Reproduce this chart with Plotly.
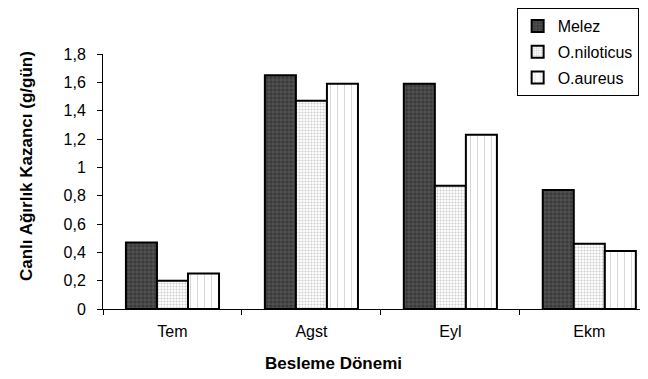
import plotly.graph_objects as go

categories = ["Tem", "Agst", "Eyl", "Ekm"]
melez = [0.47, 1.65, 1.59, 0.84]
niloticus = [0.20, 1.47, 0.87, 0.46]
aureus = [0.25, 1.59, 1.23, 0.41]
series_names = ["Melez", "O.niloticus", "O.aureus"]
y_ticks = [0, 0.2, 0.4, 0.6, 0.8, 1.0, 1.2, 1.4, 1.6, 1.8]
x_title = "Besleme Dönemi"
y_title = "Canlı Ağırlık Kazancı (g/gün)"

FONT = "Liberation Sans, Arial, sans-serif"

fig = go.Figure()
fig.add_bar(
    x=categories, y=melez, name=series_names[0], legendgroup="a",
    marker=dict(color="#3a3a3a", line=dict(color="black", width=2),
                pattern=dict(shape="+", fgcolor="#8a8a8a", size=4, solidity=0.3)),
)
fig.add_bar(
    x=categories, y=niloticus, name=series_names[1], legendgroup="b",
    marker=dict(color="white", line=dict(color="black", width=2),
                pattern=dict(shape=".", fgcolor="#9a9a9a", size=3, solidity=0.4)),
)
fig.add_bar(
    x=categories, y=aureus, name=series_names[2], legendgroup="c",
    marker=dict(color="white", line=dict(color="black", width=2),
                pattern=dict(shape="|", fgcolor="#a0a0a0", size=7, solidity=0.12)),
)

fig.update_layout(
    width=648, height=379,
    margin=dict(l=95, r=0, t=46, b=78, autoexpand=False),
    plot_bgcolor="white", paper_bgcolor="white",
    barmode="group", bargap=0.33, bargroupgap=0,
    separators=", ",
    font=dict(family=FONT, size=15, color="black"),
    showlegend=True,
    legend=dict(
        x=0.748, y=1.18, xanchor="left", yanchor="top",
        bordercolor="black", borderwidth=1, bgcolor="white",
        font=dict(size=16, family=FONT),
        tracegroupgap=2, itemwidth=30,
        entrywidth=115, entrywidthmode="pixels",
    ),
    xaxis=dict(
        type="category", range=[-0.5, 3.48],
        showline=True, linecolor="black", linewidth=1,
        ticks="outside", tickson="boundaries", ticklen=5, tickcolor="black",
        tickfont=dict(size=16), ticklabelstandoff=8,
        showgrid=False, zeroline=False,
    ),
    yaxis=dict(
        range=[0, 1.8], tickvals=y_ticks,
        showline=True, linecolor="black", linewidth=1,
        ticks="outside", ticklen=5, tickcolor="black",
        tickfont=dict(size=16), ticklabelstandoff=8,
        showgrid=False, zeroline=False,
    ),
    annotations=[
        dict(text="<b>" + x_title + "</b>", xref="paper", yref="paper",
             x=(325 - 95) / 553, y=(301 - 355) / 255, xanchor="center", yanchor="middle",
             showarrow=False, font=dict(size=17, family=FONT)),
        dict(text="<b>" + y_title + "</b>", xref="paper", yref="paper",
             x=(18 - 95) / 553, y=(301 - 158) / 255, xanchor="center", yanchor="middle",
             textangle=-90, showarrow=False, font=dict(size=17, family=FONT)),
    ],
)

fig.write_html("out.html")
